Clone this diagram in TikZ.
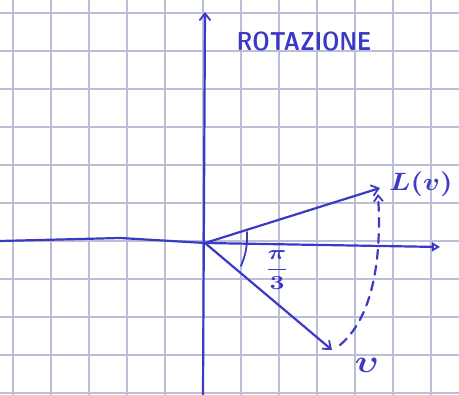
\documentclass[tikz,border=0pt]{standalone}
\usepackage{fontspec}
\usetikzlibrary{arrows.meta}
\definecolor{pen}{RGB}{58,58,196}
\definecolor{gridc}{RGB}{188,190,216}
\tikzset{
  penline/.style={draw=pen, line width=2.2pt, line cap=round, line join=round},
  barb/.style={-{Straight Barb[length=7pt,width=11pt,line width=1.8pt]}},
  lbl/.style={text=pen, inner sep=0pt},
}
\begin{document}
\begin{tikzpicture}[x=1pt,y=-1pt]
\useasboundingbox (0,0) rectangle (459,395);
\fill[white] (0,0) rectangle (459,395);
% squared paper
\foreach \k in {0,...,11} {
  \draw[gridc, line width=1.3pt] (13+38*\k,0) -- (13+38*\k,395);
}
\foreach \k in {0,...,10} {
  \draw[gridc, line width=1.3pt] (0,13+38*\k) -- (459,13+38*\k);
}
% axes
\coordinate (O) at (205,243);
\coordinate (xl) at (0,241);
\coordinate (xm) at (120,238);
\coordinate (xr) at (440,247);
\coordinate (yb) at (203,395);
\coordinate (yt) at (205,12);
\draw[penline] (xl) -- (xm) -- (O);
\draw[penline, -{Triangle[open,length=8pt,width=9pt,line width=1.8pt]}] (O) -- (xr);
\draw[penline, barb] (yb) -- (yt);
% vectors
\coordinate (Lv) at (380,188);
\coordinate (v) at (332,350);
\draw[penline, barb] (O) -- (Lv);
\draw[penline, barb] (O) -- (v);
% rotation (dashed)
\coordinate (d0) at (340,345);
\coordinate (d1) at (378,194);
\draw[penline, dashed, dash pattern=on 9pt off 7pt, -{Straight Barb[length=6pt,width=9pt,line width=1.8pt]}]
  (d0) .. controls (372,318) and (382,262) .. (d1);
% angle mark
\coordinate (a0) at (247,232);
\coordinate (a1) at (241,266);
\draw[penline, line width=1.8pt] (a0) to[bend left=12] (a1);
% labels
\node[lbl, font=\sffamily\bfseries, xscale=2.2, yscale=2.6] (rot) at (304,41) {ROTAZIONE};
\node[lbl, xscale=2.8, yscale=2.5, font=\boldmath] (Lvl) at (421,184) {$L(v)$};
\node[lbl, xscale=3.6, yscale=3.2, font=\boldmath] (vl) at (367,365) {$\upsilon$};
\node[lbl, xscale=2.6, yscale=2.0, font=\boldmath] (ang) at (277,270) {$\displaystyle\frac{\pi}{3}$};
\end{tikzpicture}
\end{document}
